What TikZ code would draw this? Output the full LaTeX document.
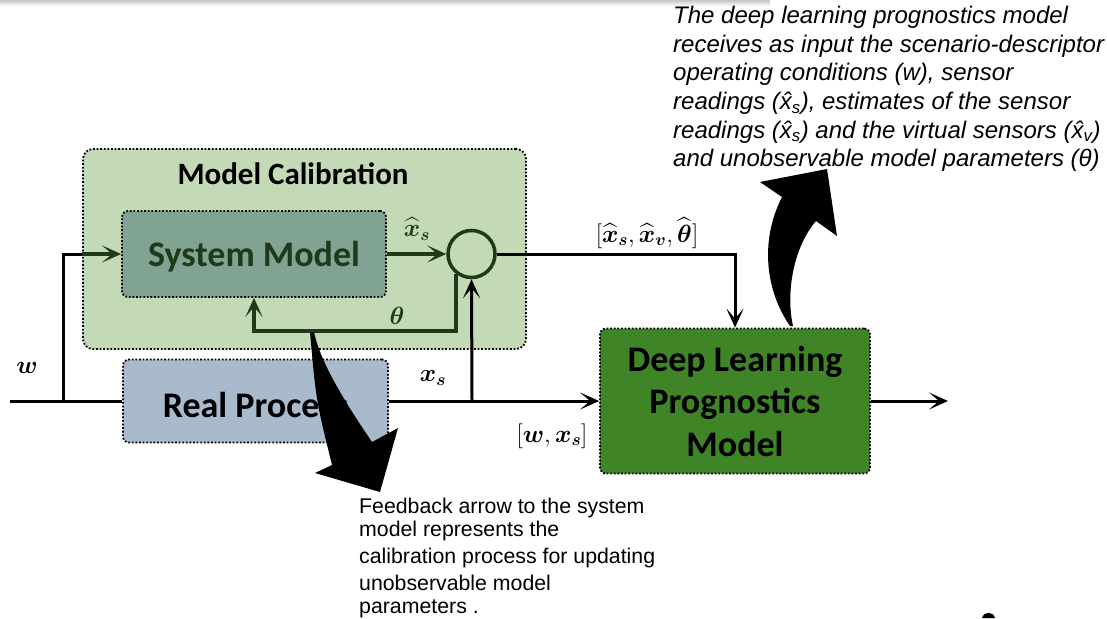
\documentclass[tikz,border=0pt]{standalone}
\usepackage{amsmath}
\usepackage{fontspec}
\setmainfont{Liberation Sans}
\newfontfamily\boxfont{Carlito}
\usetikzlibrary{arrows.meta}

\definecolor{calibfill}{HTML}{C4D9B6}
\definecolor{sysfill}{HTML}{80A393}
\definecolor{realfill}{HTML}{A9BACD}
\definecolor{dlfill}{HTML}{3F8527}
\definecolor{darkgreen}{HTML}{1E3A1A}

\begin{document}
\begin{tikzpicture}[x=1pt,y=-1pt,
  box/.style={draw=black, line width=1.8pt, dash pattern=on 1.8pt off 1.8pt,
              rounded corners=6pt, inner sep=0pt},
  lbl/.style={font=\boxfont\bfseries\fontsize{36}{42.5}\selectfont},
  arr/.style={-{Stealth[length=19pt,width=17pt,inset=10pt]}},
  wire/.style={line width=3pt, draw=black},
  inwire/.style={line width=3.5pt, draw=darkgreen},
  mathlbl/.style={font=\fontsize{26}{26}\selectfont, inner sep=0pt},
  note/.style={font=\itshape\fontsize{24}{28}\selectfont, anchor=base west, inner sep=0pt},
  remark/.style={font=\fontsize{21.3}{25}\selectfont, anchor=base west, inner sep=0pt}
]
\useasboundingbox (0,0) rectangle (1107,618);

% faint shadow strip along the upper edge
\shade[top color=gray!45, bottom color=white] (0,0) rectangle (770,6);

% blocks
\node[box, fill=calibfill, rounded corners=10pt, minimum width=443pt, minimum height=200pt] (calib) at (304.5,249) {};
\node[font=\boxfont\bfseries\fontsize{31}{36}\selectfont, inner sep=0pt] (calibtitle) at (293,174) {Model Calibration};
\node[box, lbl, fill=sysfill, text=darkgreen, text depth=0pt, minimum width=264pt, minimum height=86pt] (sys) at (254,254) {System Model};
\node[box, lbl, fill=realfill, text height=33pt, text depth=0pt, minimum width=265pt, minimum height=83pt] (real) at (255.5,401) {Real Process};
\node[box, lbl, fill=dlfill, align=center, minimum width=270pt, minimum height=145pt] (dl) at (735,401) {Deep Learning\\Prognostics\\Model};
\node[circle, draw=darkgreen, line width=3.5pt, minimum size=47pt, inner sep=0pt] (sum) at (471.5,254) {};

% signal labels
\node[mathlbl, text=darkgreen] (lxhat) at (417,229) {$\widehat{\boldsymbol{x}}_{\boldsymbol{s}}$};
\node[mathlbl, text=darkgreen] (ltheta) at (397,316) {$\boldsymbol{\theta}$};
\node[mathlbl] (lw) at (27,368) {$\boldsymbol{w}$};
\node[mathlbl] (lxs) at (433,378) {$\boldsymbol{x}_{\boldsymbol{s}}$};
\node[mathlbl] (lwx) at (552,436) {$[\boldsymbol{w},\boldsymbol{x}_{\boldsymbol{s}}]$};
\node[mathlbl] (lest) at (647,233) {$[\widehat{\boldsymbol{x}}_{\boldsymbol{s}},\widehat{\boldsymbol{x}}_{\boldsymbol{v}},\widehat{\boldsymbol{\theta}}]$};

% connection points
\coordinate (win) at (10,401);
\coordinate (wsplit) at (63,401);
\coordinate (xtap) at (472,401);
\coordinate (fbturn) at (254,331);
\coordinate (out) at (948,401);

% wiring
\draw[wire] (win) -- (real.west);
\draw[wire] (wsplit) |- (calib.west |- sys.west);
\draw[inwire, arr] (calib.west |- sys.west) -- (sys.west);
\draw[wire, arr] (real.east) -- (dl.west);
\draw[wire, arr] (xtap) -- (sum.south);
\draw[inwire, arr] (sys.east) -- (sum.west);
\draw[inwire, arr] (sum.232) |- (fbturn) -- (sys.south);
\draw[wire, arr] (sum.east) -| (dl.north);
\draw[wire, arr] (dl.east) -- (out);

% callout arrows
\fill (310,332) .. controls (316,400) .. (332,465) -- (315,473) -- (380,492) -- (398,428)
  -- (372,442) .. controls (340,395) and (320,360) .. (314,332) -- cycle;
\fill (790,326) .. controls (765,290) and (760,240) .. (782,197) -- (760,182) -- (827,169)
  -- (837,236) -- (816,221) .. controls (795,245) and (785,290) .. (793,326) -- cycle;
\fill (982,618) .. controls (984,611) and (993,611) .. (995,618) -- cycle;

% annotations
\node[note] (n1) at (673,24) {The deep learning prognostics model};
\node[note] (n2) at (673,52.5) {receives as input the scenario-descriptor};
\node[note] (n3) at (673,81) {operating conditions (w), sensor};
\node[note] (n4) at (673,109.5) {readings (x̂\textsubscript{s}), estimates of the sensor};
\node[note] (n5) at (673,138) {readings (x̂\textsubscript{s}) and the virtual sensors (x̂\textsubscript{v})};
\node[note] (n6) at (673,166.5) {and unobservable model parameters (θ)};

\node[remark] (m1) at (359,513) {Feedback arrow to the system};
\node[remark] (m2) at (359,536) {model represents the};
\node[remark] (m3) at (359,563) {calibration process for updating};
\node[remark] (m4) at (359,590) {unobservable model};
\node[remark] (m5) at (359,613) {parameters .};
\end{tikzpicture}
\end{document}
